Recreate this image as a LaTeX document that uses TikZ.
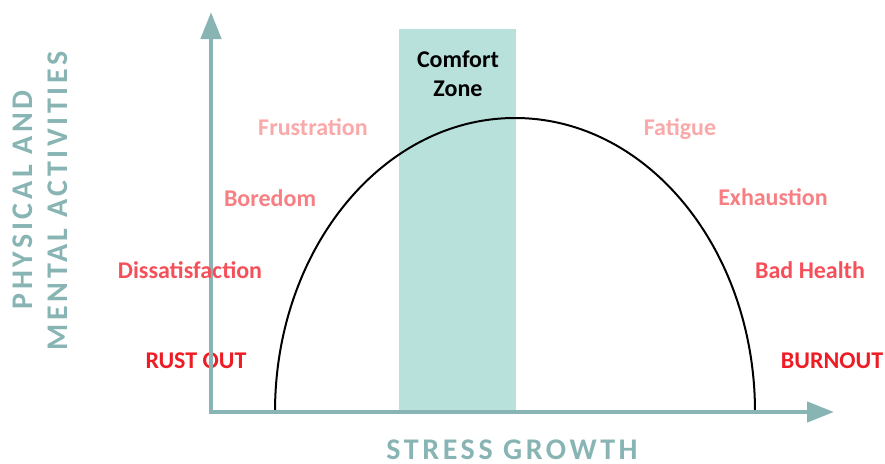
\documentclass[tikz,border=0pt]{standalone}
\usepackage{fontspec}
\setmainfont{Carlito}
\newfontfamily\spacedfont[LetterSpace=12]{Carlito}
\usetikzlibrary{arrows.meta}
\definecolor{axisc}{HTML}{88B4B4}
\definecolor{zonec}{HTML}{B8E1DC}
\definecolor{lvA}{HTML}{F9A9A9}
\definecolor{lvB}{HTML}{F77F83}
\definecolor{lvC}{HTML}{F5505A}
\definecolor{lvD}{HTML}{EE1C25}
\tikzset{
  lbl/.style={anchor=base,inner sep=0pt,font=\fontsize{24}{28}\selectfont\bfseries},
  axtitle/.style={anchor=base,inner sep=0pt,text=axisc,font=\fontsize{30}{34}\selectfont\spacedfont\bfseries},
  axisline/.style={draw=axisc,line width=4.5pt,{Triangle[length=27pt,width=20pt]}-{Triangle[length=27pt,width=20pt]}},
  curve/.style={draw=black,line width=2pt}
}
\begin{document}
\begin{tikzpicture}[x=1pt,y=-1pt]
\useasboundingbox (0,0) rectangle (885,463);
% comfort zone
\fill[zonec] (399,29) rectangle (516,412);
\node[lbl,text=black] (comfort) at (458,67) {Comfort};
\node[lbl,text=black] (zone) at (458,96) {Zone};
% curve
\coordinate (cs) at (275,412);
\draw[curve] (cs) arc[start angle=180,end angle=0,x radius=240pt,y radius=294pt];
% labels
\node[lbl,text=lvA] (frus) at (313,135) {Frustration};
\node[lbl,text=lvB] (bore) at (270,206) {Boredom};
\node[lbl,text=lvD] (rust) at (196,368) {RUST OUT};
\node[lbl,text=lvA] (fati) at (680,135) {Fatigue};
\node[lbl,text=lvB] (exha) at (773,205) {Exhaustion};
\node[lbl,text=lvC] (badh) at (810,278) {Bad Health};
\node[lbl,text=lvD] (burn) at (832,368) {BURNOUT};
% axes
\coordinate (ytip) at (211,12);
\coordinate (orig) at (211,412);
\coordinate (xtip) at (834,412);
\draw[axisline] (ytip) -- (orig) -- (xtip);
\node[lbl,text=lvC] (diss) at (190,278) {Dissatisfaction};
% axis titles
\node[axtitle,rotate=90] (yt1) at (32,200) {PHYSICAL AND};
\node[axtitle,rotate=90] (yt2) at (67,201) {MENTAL ACTIVITIES};
\node[axtitle] (xt) at (512,459) {STRESS GROWTH};
\end{tikzpicture}
\end{document}
